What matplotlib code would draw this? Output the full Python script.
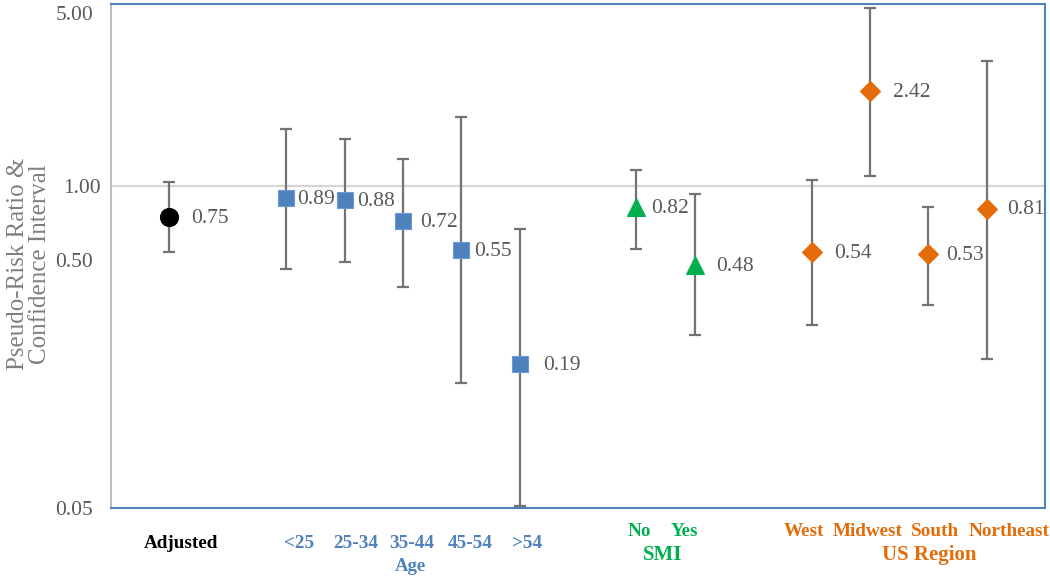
import matplotlib
matplotlib.use("Agg")
import matplotlib.pyplot as plt
import matplotlib.transforms as mtransforms

# ---- data ----
categories = ["Adjusted", "<25", "25-34", "35-44", "45-54", ">54",
              "No", "Yes", "West", "Midwest", "South", "Northeast"]
groups = ["adj", "age", "age", "age", "age", "age",
          "smi", "smi", "reg", "reg", "reg", "reg"]
ratio = [0.75, 0.89, 0.88, 0.72, 0.55, 0.19, 0.82, 0.48, 0.54, 2.42, 0.53, 0.81]
ci_low = [0.543, 0.461, 0.494, 0.390, 0.160, 0.0511, 0.558, 0.249, 0.273, 1.10, 0.330, 0.200]
ci_high = [1.035, 1.70, 1.55, 1.29, 1.90, 0.668, 1.16, 0.931, 1.06, 5.22, 0.823, 3.20]
group_titles = {"age": "Age", "smi": "SMI", "reg": "US Region"}
ytick_vals = [0.05, 0.5, 1.0, 5.0]
ytick_labels = ["0.05", "0.50", "1.00", "5.00"]

# ---- layout / style ----
xpos = [1, 3, 4, 5, 6, 7, 9, 10, 12, 13, 14, 15]
label_dx = [22, 11, 13, 17, 13, 23, 15, 21, 23, 23, 18, 20]   # value-label offsets (px)
cat_dx = [12, 13, 11, 9, 9, 7, 3, -10, -8, -2, 7, 22]          # category-label offsets (px)
grp_dx = {"age": 8, "smi": -3, "reg": 30}
colors = {"adj": "#000000", "age": "#4F81BD", "smi": "#00B050", "reg": "#E36C09"}
markers = {"adj": ("o", 13), "age": ("s", 11.5), "smi": ("^", 13), "reg": ("D", 10.5)}
catlab_y = {"adj": -0.0714, "age": -0.0714, "smi": -0.0476, "reg": -0.0476}
grplab_y = {"age": -0.117, "smi": -0.0933, "reg": -0.0933}
grp_fs = {"age": 13.5, "smi": 15, "reg": 15}
PX = 0.72  # points per pixel at dpi 100

plt.rcParams['font.family'] = ['Liberation Serif', 'DejaVu Serif']

fig = plt.figure(figsize=(10.5, 5.77), dpi=100)
ax = fig.add_axes([111/1050, 1-508/577, (1045-111)/1050, (508-4)/577])
ax.set_yscale("log")
ax.set_ylim(0.05, 5.43)
ax.set_xlim(0, 16)

# reference line
ax.axhline(1.0, color="#D6D6D6", lw=1.6, zorder=1)

tr = mtransforms.blended_transform_factory(ax.transData, ax.transAxes)
for i in range(len(categories)):
    g = groups[i]
    m, ms = markers[g]
    ax.errorbar([xpos[i]], [ratio[i]],
                yerr=[[ratio[i]-ci_low[i]], [ci_high[i]-ratio[i]]],
                fmt="none", ecolor="#737373", elinewidth=1.6, capsize=4, capthick=1.6, zorder=2)
    ax.plot([xpos[i]], [ratio[i]], marker=m, markersize=ms, color=colors[g],
            markeredgecolor=colors[g] if g != "age" else "#6A9AD6", markeredgewidth=0.8,
            linestyle="none", zorder=3)
    off = mtransforms.offset_copy(ax.transData, fig=fig, x=label_dx[i]*PX, y=-1, units="points")
    ax.text(xpos[i], ratio[i], f"{ratio[i]:.2f}", transform=off, ha="left", va="center",
            fontsize=15.5, color="#595959")
    # category label
    ctr = mtransforms.offset_copy(tr, fig=fig, x=cat_dx[i]*PX, y=0, units="points")
    ax.text(xpos[i], catlab_y[g], categories[i], transform=ctr, ha="center", va="center",
            fontsize=13.8, fontweight="bold", color=colors[g])

# group titles
for g, title in group_titles.items():
    xs = [xpos[i] for i in range(len(categories)) if groups[i] == g]
    gtr = mtransforms.offset_copy(tr, fig=fig, x=grp_dx[g]*PX, y=0, units="points")
    ax.text((min(xs)+max(xs))/2, grplab_y[g], title, transform=gtr, ha="center", va="center",
            fontsize=grp_fs[g], fontweight="bold", color=colors[g])

ax.set_xticks([])
ax.set_yticks(ytick_vals)
ax.set_yticklabels(ytick_labels)
ax.yaxis.set_minor_locator(matplotlib.ticker.NullLocator())
ax.tick_params(axis="y", length=0, pad=13, labelsize=15.5, labelcolor="#595959")
# the 1.00 label sits a little further right in the reference
for lab in ax.get_yticklabels():
    if lab.get_text() == "1.00":
        lab.set_transform(lab.get_transform() + mtransforms.ScaledTranslation(8/100, 0, fig.dpi_scale_trans))

fig.text(29/1050, 1-264/577, "Pseudo-Risk Ratio &\nConfidence Interval", rotation=90,
         ha="center", va="center", fontsize=18, color="#7F7F7F", linespacing=1.0)

for s in ["top", "right", "bottom"]:
    ax.spines[s].set_color("#4F81BD")
    ax.spines[s].set_linewidth(1.5)
ax.spines["left"].set_color("#BFBFBF")
ax.spines["left"].set_linewidth(1.5)

fig.savefig("out.png", dpi=100)
